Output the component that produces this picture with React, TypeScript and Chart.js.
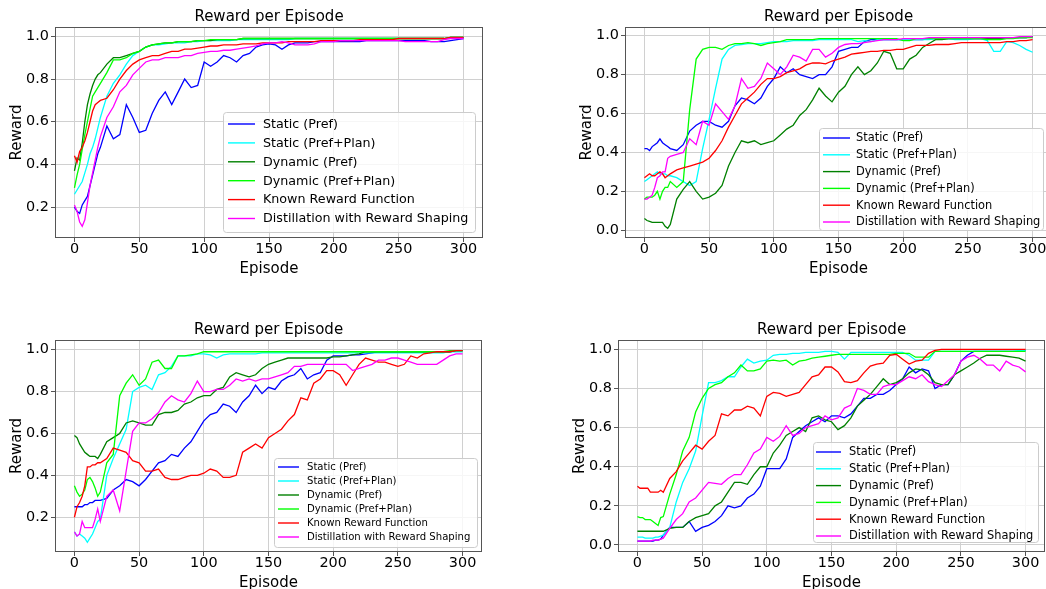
import React, { useEffect, useRef } from "react";
import { Chart, registerables } from "chart.js";

Chart.register(...registerables);

const FONT = '"DejaVu Sans", "Liberation Sans", sans-serif';

// ---------- data ----------
const EPISODES = [0, 2, 4, 6, 8, 10, 12, 14, 16, 18, 20, 25, 30, 35, 40, 45, 50, 55, 60, 65, 70, 75, 80, 85, 90, 95, 100, 105, 110, 115, 120, 125, 130, 135, 140, 145, 150, 155, 160, 165, 170, 175, 180, 185, 190, 195, 200, 205, 210, 215, 220, 225, 230, 235, 240, 245, 250, 255, 260, 265, 270, 275, 280, 285, 290, 295, 300];

const SERIES_NAMES = [
  "Static (Pref)",
  "Static (Pref+Plan)",
  "Dynamic (Pref)",
  "Dynamic (Pref+Plan)",
  "Known Reward Function",
  "Distillation with Reward Shaping",
];

const CHART_TITLE = "Reward per Episode";
const X_LABEL = "Episode";
const Y_LABEL = "Reward";
const X_TICKS = [0, 50, 100, 150, 200, 250, 300];
const Y_TICKS_FROM_02 = [0.2, 0.4, 0.6, 0.8, 1.0];
const Y_TICKS_FROM_00 = [0.0, 0.2, 0.4, 0.6, 0.8, 1.0];

// Panel 1 (top-left)
const p1StaticPref = [0.20, 0.18, 0.17, 0.21, 0.23, 0.25, 0.30, 0.35, 0.40, 0.45, 0.48,
  0.58, 0.52, 0.54, 0.68, 0.62, 0.55, 0.56, 0.64, 0.70, 0.74, 0.68, 0.74, 0.80, 0.76, 0.77, 0.88, 0.86, 0.88, 0.91, 0.90, 0.88, 0.91, 0.92, 0.95, 0.96, 0.965,
  0.96, 0.94, 0.96, 0.97, 0.97, 0.97, 0.975, 0.975, 0.975, 0.975, 0.975, 0.975, 0.975, 0.975, 0.98, 0.98, 0.98, 0.98, 0.98, 0.98, 0.98, 0.98, 0.98, 0.98, 0.975, 0.975, 0.975, 0.98, 0.985, 0.99];
const p1StaticPlan = [0.26, 0.28, 0.30, 0.32, 0.36, 0.40, 0.45, 0.48, 0.52, 0.57, 0.62,
  0.72, 0.78, 0.82, 0.87, 0.91, 0.93, 0.95, 0.96, 0.96, 0.965, 0.97, 0.97, 0.97, 0.975, 0.975, 0.98, 0.98, 0.98, 0.98, 0.98, 0.985, 0.985, 0.985, 0.985, 0.985, 0.985,
  0.985, 0.985, 0.985, 0.99, 0.99, 0.99, 0.99, 0.99, 0.99, 0.99, 0.99, 0.99, 0.99, 0.99, 0.99, 0.99, 0.99, 0.99, 0.99, 0.99, 0.99, 0.99, 0.99, 0.99, 0.99, 0.99, 0.99, 0.995, 0.995, 0.995];
const p1DynPref = [0.37, 0.43, 0.42, 0.50, 0.60, 0.68, 0.73, 0.77, 0.80, 0.82, 0.83,
  0.87, 0.90, 0.90, 0.91, 0.92, 0.93, 0.95, 0.96, 0.965, 0.97, 0.97, 0.975, 0.975, 0.975, 0.98, 0.98, 0.98, 0.985, 0.985, 0.985, 0.985, 0.99, 0.99, 0.99, 0.99, 0.99,
  0.99, 0.99, 0.99, 0.99, 0.99, 0.99, 0.99, 0.99, 0.99, 0.99, 0.99, 0.99, 0.99, 0.99, 0.99, 0.99, 0.99, 0.99, 0.99, 0.99, 0.99, 0.99, 0.99, 0.99, 0.99, 0.99, 0.99, 0.995, 0.995, 0.995];
const p1DynPlan = [0.29, 0.35, 0.40, 0.47, 0.54, 0.60, 0.66, 0.72, 0.74, 0.76, 0.78,
  0.83, 0.89, 0.89, 0.90, 0.92, 0.93, 0.95, 0.96, 0.965, 0.97, 0.97, 0.975, 0.975, 0.975, 0.98, 0.98, 0.985, 0.985, 0.985, 0.985, 0.985, 0.99, 0.99, 0.99, 0.99, 0.99,
  0.99, 0.99, 0.99, 0.99, 0.99, 0.99, 0.99, 0.99, 0.99, 0.99, 0.99, 0.99, 0.99, 0.99, 0.99, 0.99, 0.99, 0.99, 0.99, 0.99, 0.99, 0.99, 0.99, 0.99, 0.99, 0.99, 0.99, 0.995, 0.995, 0.995];
const p1Known = [0.44, 0.41, 0.46, 0.48, 0.51, 0.55, 0.60, 0.65, 0.68, 0.69, 0.70,
  0.71, 0.75, 0.80, 0.84, 0.87, 0.89, 0.90, 0.91, 0.91, 0.92, 0.93, 0.93, 0.94, 0.94, 0.945, 0.95, 0.955, 0.955, 0.96, 0.96, 0.96, 0.965, 0.965, 0.965, 0.97, 0.97,
  0.97, 0.97, 0.975, 0.975, 0.975, 0.975, 0.975, 0.98, 0.98, 0.98, 0.98, 0.98, 0.98, 0.985, 0.985, 0.985, 0.985, 0.985, 0.985, 0.99, 0.99, 0.99, 0.99, 0.99, 0.99, 0.99, 0.99, 0.995, 0.995, 0.995];
const p1Distill = [0.21, 0.18, 0.13, 0.11, 0.14, 0.22, 0.30, 0.36, 0.42, 0.48, 0.53,
  0.62, 0.67, 0.74, 0.77, 0.82, 0.85, 0.88, 0.89, 0.89, 0.90, 0.90, 0.90, 0.91, 0.91, 0.92, 0.925, 0.93, 0.93, 0.935, 0.935, 0.94, 0.945, 0.95, 0.955, 0.965, 0.97,
  0.97, 0.975, 0.97, 0.96, 0.96, 0.96, 0.965, 0.975, 0.975, 0.975, 0.98, 0.98, 0.98, 0.98, 0.98, 0.98, 0.98, 0.98, 0.98, 0.98, 0.975, 0.975, 0.975, 0.975, 0.975, 0.975, 0.985, 0.99, 0.99, 0.99];

// Panel 2 (top-right)
const p2StaticPref = [0.42, 0.42, 0.41, 0.43, 0.44, 0.45, 0.47, 0.45, 0.44, 0.43, 0.42,
  0.41, 0.44, 0.51, 0.54, 0.56, 0.56, 0.54, 0.53, 0.56, 0.64, 0.68, 0.67, 0.65, 0.68, 0.74, 0.78, 0.84, 0.81, 0.83, 0.80, 0.79, 0.78, 0.80, 0.80, 0.84, 0.92,
  0.93, 0.94, 0.94, 0.97, 0.98, 0.98, 0.98, 0.98, 0.98, 0.98, 0.98, 0.98, 0.98, 0.985, 0.985, 0.985, 0.985, 0.985, 0.985, 0.985, 0.985, 0.985, 0.985, 0.985, 0.985, 0.99, 0.99, 0.99, 0.99, 0.995];
const p2StaticPlan = [0.25, 0.26, 0.27, 0.28, 0.29, 0.30, 0.29, 0.29, 0.29, 0.28, 0.28,
  0.27, 0.25, 0.23, 0.25, 0.42, 0.57, 0.73, 0.88, 0.93, 0.95, 0.955, 0.96, 0.96, 0.96, 0.965, 0.97, 0.97, 0.97, 0.975, 0.975, 0.975, 0.975, 0.98, 0.98, 0.98, 0.98,
  0.98, 0.98, 0.97, 0.975, 0.97, 0.98, 0.98, 0.98, 0.98, 0.98, 0.98, 0.98, 0.98, 0.98, 0.985, 0.985, 0.985, 0.98, 0.98, 0.98, 0.985, 0.985, 0.975, 0.92, 0.92, 0.97, 0.965, 0.95, 0.93, 0.915];
const p2DynPref = [0.06, 0.05, 0.045, 0.04, 0.04, 0.04, 0.04, 0.04, 0.02, 0.01, 0.03,
  0.16, 0.21, 0.25, 0.20, 0.16, 0.17, 0.19, 0.23, 0.33, 0.40, 0.46, 0.45, 0.46, 0.44, 0.45, 0.46, 0.49, 0.52, 0.54, 0.59, 0.62, 0.67, 0.73, 0.69, 0.66, 0.71,
  0.74, 0.80, 0.84, 0.80, 0.82, 0.86, 0.92, 0.91, 0.83, 0.83, 0.88, 0.90, 0.94, 0.96, 0.98, 0.98, 0.985, 0.985, 0.985, 0.985, 0.985, 0.985, 0.985, 0.985, 0.985, 0.99, 0.99, 0.99, 0.99, 0.995];
const p2DynPlan = [0.16, 0.17, 0.17, 0.17, 0.18, 0.20, 0.16, 0.20, 0.22, 0.22, 0.25,
  0.22, 0.25, 0.62, 0.88, 0.93, 0.94, 0.94, 0.93, 0.95, 0.96, 0.96, 0.965, 0.96, 0.95, 0.96, 0.965, 0.97, 0.98, 0.98, 0.98, 0.98, 0.98, 0.985, 0.985, 0.985, 0.985,
  0.985, 0.985, 0.985, 0.985, 0.985, 0.985, 0.985, 0.985, 0.985, 0.975, 0.975, 0.985, 0.985, 0.985, 0.985, 0.985, 0.985, 0.985, 0.985, 0.985, 0.985, 0.985, 0.98, 0.98, 0.98, 0.985, 0.985, 0.99, 0.99, 0.99];
const p2Known = [0.27, 0.28, 0.29, 0.28, 0.28, 0.29, 0.30, 0.29, 0.27, 0.28, 0.29,
  0.31, 0.32, 0.33, 0.34, 0.35, 0.37, 0.41, 0.46, 0.53, 0.59, 0.65, 0.68, 0.71, 0.75, 0.78, 0.78, 0.79, 0.81, 0.82, 0.83, 0.85, 0.86, 0.86, 0.855, 0.87, 0.88,
  0.89, 0.905, 0.91, 0.915, 0.92, 0.92, 0.925, 0.925, 0.93, 0.93, 0.94, 0.95, 0.95, 0.95, 0.955, 0.955, 0.955, 0.96, 0.965, 0.965, 0.965, 0.965, 0.965, 0.965, 0.965, 0.97, 0.97, 0.975, 0.975, 0.98];
const p2Distill = [0.16, 0.16, 0.17, 0.18, 0.22, 0.27, 0.28, 0.30, 0.30, 0.37, 0.38,
  0.39, 0.40, 0.47, 0.44, 0.56, 0.54, 0.65, 0.61, 0.57, 0.64, 0.78, 0.73, 0.74, 0.78, 0.86, 0.83, 0.80, 0.84, 0.90, 0.89, 0.87, 0.93, 0.93, 0.89, 0.91, 0.94,
  0.955, 0.96, 0.96, 0.965, 0.97, 0.975, 0.98, 0.98, 0.98, 0.985, 0.985, 0.985, 0.985, 0.99, 0.99, 0.99, 0.99, 0.99, 0.99, 0.99, 0.99, 0.99, 0.99, 0.99, 0.99, 0.99, 0.99, 0.995, 0.995, 0.995];

// Panel 3 (bottom-left)
const p3StaticPref = [0.25, 0.25, 0.25, 0.25, 0.26, 0.26, 0.27, 0.27, 0.28, 0.28, 0.28,
  0.29, 0.33, 0.35, 0.38, 0.37, 0.35, 0.38, 0.42, 0.46, 0.47, 0.50, 0.49, 0.53, 0.56, 0.61, 0.66, 0.69, 0.70, 0.74, 0.73, 0.70, 0.75, 0.78, 0.83, 0.79, 0.82,
  0.81, 0.85, 0.87, 0.88, 0.91, 0.86, 0.88, 0.89, 0.95, 0.97, 0.97, 0.97, 0.975, 0.975, 0.98, 0.985, 0.99, 0.99, 0.99, 0.99, 0.99, 0.99, 0.99, 0.99, 0.99, 0.99, 0.99, 0.99, 0.995, 0.995];
const p3StaticPlan = [0.13, 0.11, 0.12, 0.11, 0.10, 0.08, 0.10, 0.12, 0.15, 0.18, 0.19,
  0.40, 0.48, 0.55, 0.62, 0.80, 0.82, 0.83, 0.81, 0.88, 0.89, 0.92, 0.97, 0.97, 0.97, 0.98, 0.98, 0.975, 0.96, 0.975, 0.98, 0.98, 0.98, 0.98, 0.98, 0.985, 0.985,
  0.985, 0.985, 0.985, 0.985, 0.985, 0.985, 0.985, 0.985, 0.985, 0.985, 0.985, 0.985, 0.985, 0.985, 0.985, 0.985, 0.985, 0.985, 0.985, 0.985, 0.985, 0.985, 0.985, 0.985, 0.985, 0.985, 0.985, 0.99, 0.99, 0.99];
const p3DynPref = [0.59, 0.58, 0.55, 0.53, 0.51, 0.50, 0.49, 0.49, 0.49, 0.48, 0.50,
  0.56, 0.58, 0.60, 0.65, 0.66, 0.65, 0.64, 0.64, 0.69, 0.70, 0.70, 0.71, 0.74, 0.75, 0.77, 0.78, 0.78, 0.81, 0.82, 0.87, 0.89, 0.88, 0.87, 0.88, 0.91, 0.93,
  0.94, 0.95, 0.96, 0.96, 0.96, 0.96, 0.96, 0.96, 0.96, 0.965, 0.965, 0.97, 0.975, 0.98, 0.99, 0.99, 0.99, 0.99, 0.99, 0.99, 0.99, 0.99, 0.99, 0.99, 0.99, 0.99, 0.99, 0.99, 0.995, 0.995];
const p3DynPlan = [0.35, 0.32, 0.30, 0.31, 0.33, 0.38, 0.39, 0.37, 0.34, 0.30, 0.32,
  0.46, 0.50, 0.78, 0.84, 0.88, 0.83, 0.86, 0.94, 0.95, 0.91, 0.91, 0.97, 0.97, 0.975, 0.98, 0.99, 0.99, 0.99, 0.99, 0.99, 0.99, 0.99, 0.99, 0.99, 0.99, 0.99,
  0.99, 0.99, 0.99, 0.99, 0.99, 0.99, 0.99, 0.99, 0.99, 0.99, 0.99, 0.99, 0.99, 0.99, 0.99, 0.99, 0.99, 0.99, 0.99, 0.99, 0.99, 0.99, 0.99, 0.99, 0.99, 0.99, 0.99, 0.995, 0.995, 0.995];
const p3Known = [0.20, 0.25, 0.27, 0.30, 0.35, 0.44, 0.44, 0.45, 0.45, 0.46, 0.46,
  0.48, 0.53, 0.52, 0.51, 0.47, 0.46, 0.42, 0.42, 0.43, 0.39, 0.38, 0.38, 0.39, 0.40, 0.40, 0.41, 0.43, 0.42, 0.39, 0.39, 0.40, 0.51, 0.53, 0.55, 0.53, 0.58,
  0.60, 0.62, 0.66, 0.69, 0.77, 0.76, 0.84, 0.86, 0.90, 0.90, 0.88, 0.83, 0.88, 0.93, 0.96, 0.95, 0.94, 0.94, 0.93, 0.92, 0.93, 0.97, 0.96, 0.98, 0.985, 0.99, 0.99, 0.99, 0.995, 0.995];
const p3Distill = [0.13, 0.11, 0.12, 0.18, 0.15, 0.15, 0.15, 0.15, 0.19, 0.24, 0.18,
  0.30, 0.33, 0.23, 0.42, 0.61, 0.65, 0.65, 0.67, 0.70, 0.75, 0.78, 0.76, 0.75, 0.79, 0.85, 0.80, 0.80, 0.81, 0.81, 0.83, 0.86, 0.85, 0.86, 0.85, 0.86, 0.86,
  0.87, 0.88, 0.89, 0.92, 0.92, 0.93, 0.93, 0.93, 0.93, 0.93, 0.93, 0.93, 0.90, 0.91, 0.92, 0.93, 0.95, 0.95, 0.96, 0.96, 0.95, 0.94, 0.93, 0.93, 0.93, 0.93, 0.95, 0.97, 0.98, 0.98];

// Panel 4 (bottom-right)
const p4StaticPref = [0.02, 0.02, 0.02, 0.02, 0.02, 0.02, 0.02, 0.025, 0.025, 0.03, 0.05,
  0.09, 0.09, 0.09, 0.12, 0.07, 0.09, 0.10, 0.12, 0.15, 0.20, 0.19, 0.20, 0.24, 0.26, 0.30, 0.39, 0.39, 0.39, 0.44, 0.55, 0.58, 0.61, 0.63, 0.65, 0.63, 0.66,
  0.66, 0.65, 0.67, 0.71, 0.75, 0.75, 0.77, 0.77, 0.79, 0.82, 0.85, 0.91, 0.88, 0.90, 0.89, 0.80, 0.82, 0.82, 0.87, 0.94, 0.97, 0.99, 0.99, 0.99, 0.99, 0.99, 0.99, 0.99, 0.99, 0.995];
const p4StaticPlan = [0.04, 0.04, 0.04, 0.035, 0.035, 0.035, 0.035, 0.04, 0.04, 0.045, 0.05,
  0.09, 0.22, 0.32, 0.39, 0.48, 0.66, 0.83, 0.83, 0.84, 0.86, 0.86, 0.91, 0.95, 0.93, 0.94, 0.945, 0.97, 0.975, 0.975, 0.98, 0.98, 0.985, 0.985, 0.985, 0.99, 0.99,
  0.985, 0.95, 0.985, 0.985, 0.985, 0.985, 0.985, 0.985, 0.985, 0.985, 0.985, 0.97, 0.945, 0.945, 0.945, 0.99, 0.99, 0.99, 0.99, 0.99, 0.99, 0.99, 0.99, 0.99, 0.99, 0.99, 0.99, 0.99, 0.995, 0.995];
const p4DynPref = [0.07, 0.07, 0.07, 0.07, 0.07, 0.07, 0.07, 0.07, 0.07, 0.07, 0.07,
  0.085, 0.09, 0.09, 0.12, 0.14, 0.15, 0.16, 0.20, 0.22, 0.27, 0.32, 0.32, 0.31, 0.36, 0.40, 0.40, 0.47, 0.51, 0.56, 0.58, 0.60, 0.58, 0.65, 0.66, 0.64, 0.63,
  0.59, 0.61, 0.65, 0.71, 0.74, 0.77, 0.81, 0.85, 0.82, 0.83, 0.85, 0.88, 0.90, 0.895, 0.87, 0.83, 0.82, 0.82, 0.87, 0.89, 0.91, 0.93, 0.955, 0.97, 0.97, 0.97, 0.965, 0.96, 0.955, 0.94];
const p4DynPlan = [0.145, 0.14, 0.14, 0.13, 0.13, 0.13, 0.12, 0.11, 0.10, 0.14, 0.145,
  0.26, 0.36, 0.48, 0.55, 0.68, 0.75, 0.80, 0.82, 0.83, 0.86, 0.88, 0.92, 0.89, 0.89, 0.90, 0.94, 0.945, 0.94, 0.945, 0.92, 0.94, 0.945, 0.955, 0.96, 0.965, 0.97,
  0.975, 0.975, 0.975, 0.975, 0.975, 0.975, 0.975, 0.975, 0.975, 0.98, 0.98, 0.98, 0.96, 0.96, 0.96, 0.99, 0.99, 0.99, 0.99, 0.99, 0.99, 0.99, 0.99, 0.99, 0.99, 0.99, 0.99, 0.99, 0.99, 0.99];
const p4Known = [0.30, 0.29, 0.29, 0.29, 0.29, 0.27, 0.27, 0.27, 0.27, 0.28, 0.27,
  0.34, 0.375, 0.43, 0.47, 0.51, 0.49, 0.53, 0.56, 0.67, 0.66, 0.69, 0.69, 0.71, 0.70, 0.66, 0.76, 0.78, 0.775, 0.76, 0.77, 0.78, 0.82, 0.86, 0.87, 0.91, 0.91,
  0.885, 0.835, 0.83, 0.84, 0.88, 0.915, 0.925, 0.93, 0.97, 0.975, 0.95, 0.925, 0.94, 0.945, 0.98, 0.995, 1.0, 1.0, 1.0, 1.0, 1.0, 1.0, 1.0, 1.0, 1.0, 1.0, 1.0, 1.0, 1.0, 1.0];
const p4Distill = [0.02, 0.02, 0.02, 0.02, 0.02, 0.02, 0.025, 0.025, 0.025, 0.03, 0.035,
  0.085, 0.13, 0.16, 0.22, 0.24, 0.28, 0.32, 0.315, 0.31, 0.34, 0.36, 0.36, 0.41, 0.47, 0.49, 0.55, 0.53, 0.555, 0.61, 0.56, 0.57, 0.60, 0.61, 0.62, 0.66, 0.64,
  0.65, 0.70, 0.715, 0.80, 0.79, 0.77, 0.77, 0.81, 0.82, 0.82, 0.84, 0.86, 0.85, 0.87, 0.835, 0.82, 0.81, 0.84, 0.87, 0.94, 0.96, 0.97, 0.95, 0.92, 0.92, 0.89, 0.94, 0.92, 0.91, 0.885];

// ---------- styles / layout ----------
const COLORS = ["#0000ff", "#00ffff", "#008000", "#00ff00", "#ff0000", "#ff00ff"];

type LegendCfg = {
  x: number; y: number; w: number; h: number;
  font: number; row0: number; gap: number;
  hx0: number; hx1: number; tx: number;
};

type PanelCfg = {
  left: number; top: number; width: number; height: number; padRight: number;
  yMin: number; yMax: number; yTicks: number[];
  series: number[][];
  legend: LegendCfg;
};

const PANELS: PanelCfg[] = [
  {
    left: 0, top: 0, width: 484, height: 278, padRight: 1,
    yMin: 0.055, yMax: 1.044, yTicks: Y_TICKS_FROM_02,
    series: [p1StaticPref, p1StaticPlan, p1DynPref, p1DynPlan, p1Known, p1Distill],
    legend: { x: 223, y: 112, w: 252, h: 120, font: 12.7, row0: 124, gap: 18.9, hx0: 228, hx1: 255, tx: 263 },
  },
  {
    left: 570, top: 0, width: 482, height: 278, padRight: 0,
    yMin: -0.04, yMax: 1.045, yTicks: Y_TICKS_FROM_00,
    series: [p2StaticPref, p2StaticPlan, p2DynPref, p2DynPlan, p2Known, p2Distill],
    legend: { x: 819, y: 128, w: 224, h: 102, font: 11.4, row0: 138, gap: 16.8, hx0: 823, hx1: 850, tx: 856 },
  },
  {
    left: 0, top: 313, width: 483, height: 279, padRight: 1,
    yMin: 0.034, yMax: 1.046, yTicks: Y_TICKS_FROM_02,
    series: [p3StaticPref, p3StaticPlan, p3DynPref, p3DynPlan, p3Known, p3Distill],
    legend: { x: 274, y: 458, w: 203, h: 89, font: 10.1, row0: 467, gap: 14, hx0: 278, hx1: 299, tx: 307 },
  },
  {
    left: 563, top: 313, width: 483, height: 279, padRight: 1,
    yMin: -0.036, yMax: 1.048, yTicks: Y_TICKS_FROM_00,
    series: [p4StaticPref, p4StaticPlan, p4DynPref, p4DynPlan, p4Known, p4Distill],
    legend: { x: 813, y: 442, w: 225, h: 100, font: 11.4, row0: 452, gap: 16.8, hx0: 816, hx1: 841, tx: 849 },
  },
];

function PanelChart({ cfg }: { cfg: PanelCfg }) {
  const ref = useRef<HTMLCanvasElement | null>(null);

  useEffect(() => {
    const canvas = ref.current;
    if (!canvas) return;

    const overlay = {
      id: "overlay",
      afterDatasetsDraw(chart: any) {
        const { ctx, chartArea: a } = chart;
        ctx.save();
        ctx.strokeStyle = "#555555";
        ctx.lineWidth = 1;
        const l = Math.round(a.left), t = Math.round(a.top);
        const r = Math.round(a.right), b = Math.round(a.bottom);
        ctx.strokeRect(l + 0.5, t + 0.5, r - l - 1, b - t - 1);
        ctx.restore();
      },
      afterDraw(chart: any) {
        const { ctx, chartArea: a } = chart;
        ctx.save();
        // title
        ctx.fillStyle = "#000000";
        ctx.font = `15px ${FONT}`;
        ctx.textAlign = "center";
        ctx.textBaseline = "middle";
        ctx.fillText(CHART_TITLE, (a.left + a.right) / 2, 17);

        // legend
        const L = cfg.legend;
        const ox = cfg.left, oy = cfg.top;
        const bx = L.x - ox + 0.5, by = L.y - oy + 0.5;
        ctx.beginPath();
        if ((ctx as any).roundRect) (ctx as any).roundRect(bx, by, L.w, L.h, 3);
        else ctx.rect(bx, by, L.w, L.h);
        ctx.fillStyle = "rgba(255,255,255,0.8)";
        ctx.fill();
        ctx.strokeStyle = "#cccccc";
        ctx.lineWidth = 1;
        ctx.stroke();

        ctx.font = `${L.font}px ${FONT}`;
        ctx.textAlign = "left";
        ctx.textBaseline = "middle";
        SERIES_NAMES.forEach((name, i) => {
          const yy = L.row0 + i * L.gap - oy;
          ctx.beginPath();
          ctx.strokeStyle = COLORS[i];
          ctx.lineWidth = 1.4;
          ctx.moveTo(L.hx0 - ox, yy);
          ctx.lineTo(L.hx1 - ox, yy);
          ctx.stroke();
          ctx.fillStyle = "#000000";
          ctx.fillText(name, L.tx - ox, yy + 0.5);
        });
        ctx.restore();
      },
    };

    const datasets = cfg.series.map((vals, i) => ({
      label: SERIES_NAMES[i],
      data: vals.map((v, j) => ({ x: EPISODES[j], y: v })),
      borderColor: COLORS[i],
      backgroundColor: COLORS[i],
      borderWidth: 1.3,
      pointRadius: 0,
      pointHoverRadius: 0,
      tension: 0,
      fill: false,
      order: SERIES_NAMES.length - i,
    }));

    const chart = new Chart(canvas, {
      type: "line",
      data: { datasets },
      options: {
        animation: false,
        responsive: false,
        devicePixelRatio: 1,
        events: [],
        layout: { padding: { top: 27, left: 0, right: cfg.padRight, bottom: 0 } },
        plugins: {
          legend: { display: false },
          title: { display: false },
          tooltip: { enabled: false },
        },
        scales: {
          x: {
            type: "linear",
            min: -15,
            max: 315,
            afterBuildTicks: (s: any) => { s.ticks = X_TICKS.map((v) => ({ value: v })); },
            afterFit: (s: any) => { s.height = 40; },
            ticks: {
              autoSkip: false,
              maxRotation: 0,
              padding: 0,
              color: "#000000",
              font: { family: FONT, size: 14.4, lineHeight: 1 },
              callback: (v: any) => String(v),
            },
            grid: { color: "#d0d0d0", lineWidth: 1, tickLength: 4, tickColor: "#555555", drawTicks: true },
            border: { display: false },
            title: {
              display: true,
              text: X_LABEL,
              color: "#000000",
              font: { family: FONT, size: 15, lineHeight: 1.2 },
              padding: { top: 0, bottom: 0 },
            },
          },
          y: {
            type: "linear",
            min: cfg.yMin,
            max: cfg.yMax,
            afterBuildTicks: (s: any) => { s.ticks = cfg.yTicks.map((v) => ({ value: v })); },
            afterFit: (s: any) => { s.width = 55; },
            ticks: {
              padding: 2,
              color: "#000000",
              font: { family: FONT, size: 14.4, lineHeight: 1 },
              callback: (v: any) => Number(v).toFixed(1),
            },
            grid: { color: "#d0d0d0", lineWidth: 1, tickLength: 4, tickColor: "#555555", drawTicks: true },
            border: { display: false },
            title: {
              display: true,
              text: Y_LABEL,
              color: "#000000",
              font: { family: FONT, size: 15, lineHeight: 1.2 },
              padding: { top: 8, bottom: 0 },
            },
          },
        },
      },
      plugins: [overlay],
    } as any);

    return () => chart.destroy();
  }, [cfg]);

  return (
    <canvas
      ref={ref}
      width={cfg.width}
      height={cfg.height}
      style={{ position: "absolute", left: cfg.left, top: cfg.top, width: cfg.width, height: cfg.height }}
    />
  );
}

export default function App() {
  return (
    <div
      style={{
        position: "absolute",
        left: 0,
        top: 0,
        width: 1046,
        height: 589,
        overflow: "hidden",
        background: "#ffffff",
      }}
    >
      {PANELS.map((p, i) => (
        <PanelChart key={i} cfg={p} />
      ))}
    </div>
  );
}
